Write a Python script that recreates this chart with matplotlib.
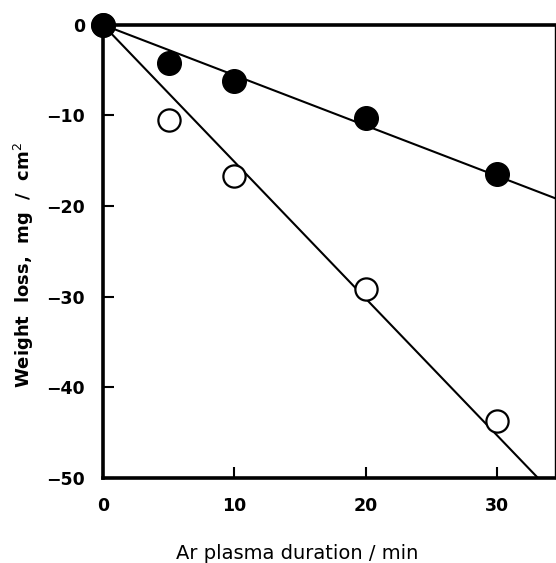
import numpy as np
import matplotlib
matplotlib.use("Agg")
import matplotlib.pyplot as plt

# Ar plasma duration (min)
time_filled = [0, 5, 10, 20, 30]
loss_filled = [0, -4.2, -6.2, -10.3, -16.5]
time_open = [0, 5, 10, 20, 30]
loss_open = [0, -10.5, -16.7, -29.2, -43.7]

# slopes of the drawn fit lines (mg/cm2 per min)
slope_filled = -0.556
slope_open = -1.51

x_ticks = [0, 10, 20, 30]
y_ticks = [0, -10, -20, -30, -40, -50]

fig = plt.figure(figsize=(5.56, 5.63), dpi=100)
ax = fig.add_axes([0.185, 0.151, 0.813, 0.805])

xfit = np.array([0, 36])
ax.plot(xfit, slope_filled * xfit, color="black", lw=1.5, zorder=2)
ax.plot(xfit, slope_open * xfit, color="black", lw=1.5, zorder=2)

ax.plot(time_open, loss_open, "o", ms=16, mfc="white", mec="black", mew=1.6,
        clip_on=False, zorder=3)
ax.plot(time_filled, loss_filled, "o", ms=17, mfc="black", mec="black",
        clip_on=False, zorder=4)

ax.set_xlim(0, 34.4)
ax.set_ylim(-50, 0)
ax.set_xticks(x_ticks)
ax.set_yticks(y_ticks)
ax.set_yticklabels([str(v).replace("-", "\u2212") for v in y_ticks])

for side in ["left", "top", "bottom"]:
    ax.spines[side].set_linewidth(2.6)
ax.spines["right"].set_linewidth(1.0)

ax.tick_params(axis="both", direction="in", length=8, width=1.5,
               labelsize=12.5)
ax.tick_params(axis="x", pad=14)
ax.tick_params(axis="y", pad=13)
for lab in ax.get_xticklabels() + ax.get_yticklabels():
    lab.set_fontweight("bold")

ax.set_xlabel("Ar plasma duration / min", fontsize=14, va="center")
ax.xaxis.set_label_coords(0.43, -0.166)
ax.set_ylabel("Weight  loss,  mg  /  cm$^2$", fontsize=13,
              fontweight="bold", va="center")
ax.yaxis.set_label_coords(-0.175, 0.47)

fig.savefig("out.png", dpi=100)
